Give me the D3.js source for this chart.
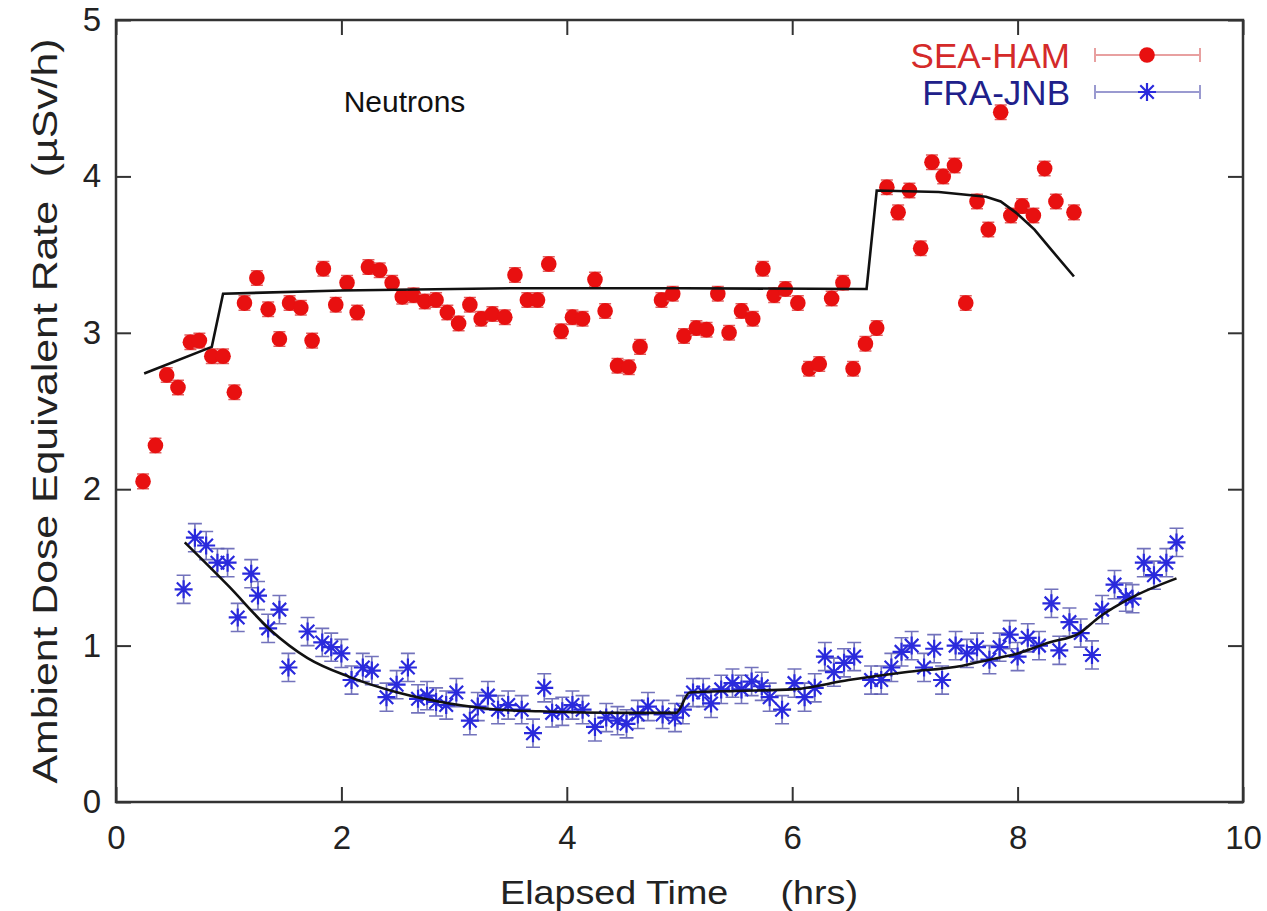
<!DOCTYPE html>
<html><head><meta charset="utf-8">
<script src="https://cdn.jsdelivr.net/npm/d3@7"></script>
<style>body{margin:0;background:#fff}svg{display:block}text{font-family:"Liberation Sans",Arial,sans-serif}</style>
</head><body><svg id="c" width="1267" height="911"></svg>
<script>
const xTicks=[0,2,4,6,8,10];
const yTicks=[0,1,2,3,4,5];
const seriesNames=["SEA-HAM","FRA-JNB"];
const seaHamTime=[0.24,0.35,0.45,0.55,0.66,0.74,0.85,0.95,1.05,1.14,1.25,1.35,1.45,1.54,1.64,1.74,1.84,1.95,2.05,2.14,2.24,2.34,2.45,2.54,2.64,2.74,2.84,2.94,3.04,3.14,3.24,3.34,3.45,3.54,3.65,3.74,3.84,3.95,4.05,4.14,4.25,4.34,4.45,4.55,4.65,4.84,4.94,5.04,5.15,5.24,5.34,5.44,5.55,5.65,5.74,5.84,5.94,6.05,6.15,6.24,6.35,6.45,6.54,6.65,6.75,6.84,6.94,7.04,7.14,7.24,7.34,7.44,7.54,7.64,7.74,7.85,7.94,8.04,8.14,8.24,8.34,8.50];
const seaHamRate=[2.05,2.28,2.73,2.65,2.94,2.95,2.85,2.85,2.62,3.19,3.35,3.15,2.96,3.19,3.16,2.95,3.41,3.18,3.32,3.13,3.42,3.40,3.32,3.23,3.24,3.20,3.21,3.13,3.06,3.18,3.09,3.12,3.10,3.37,3.21,3.21,3.44,3.01,3.10,3.09,3.34,3.14,2.79,2.78,2.91,3.21,3.25,2.98,3.03,3.02,3.25,3.00,3.14,3.09,3.41,3.24,3.28,3.19,2.77,2.80,3.22,3.32,2.77,2.93,3.03,3.93,3.77,3.91,3.54,4.09,4.00,4.07,3.19,3.84,3.66,4.41,3.75,3.81,3.75,4.05,3.84,3.77];
const seaHamErr=0.04;
const seaHamFitTime=[0.25,0.85,0.95,2.0,3.5,5.0,6.66,6.75,7.3,7.72,7.85,8.0,8.15,8.3,8.5];
const seaHamFitRate=[2.74,2.91,3.25,3.27,3.285,3.285,3.28,3.91,3.90,3.87,3.84,3.76,3.66,3.53,3.36];
const fraJnbTime=[0.60,0.70,0.80,0.90,0.99,1.08,1.20,1.26,1.35,1.45,1.53,1.70,1.83,1.91,2.00,2.09,2.19,2.27,2.40,2.49,2.59,2.68,2.76,2.84,2.93,3.02,3.14,3.21,3.30,3.39,3.48,3.60,3.70,3.80,3.87,3.96,4.05,4.14,4.25,4.35,4.45,4.53,4.63,4.72,4.85,4.96,5.03,5.12,5.21,5.28,5.37,5.47,5.55,5.64,5.73,5.80,5.91,6.02,6.11,6.20,6.29,6.37,6.46,6.55,6.70,6.79,6.88,6.97,7.06,7.17,7.26,7.33,7.45,7.55,7.64,7.75,7.84,7.93,8.00,8.09,8.19,8.30,8.37,8.46,8.56,8.66,8.75,8.86,8.96,9.02,9.12,9.21,9.32,9.41];
const fraJnbRate=[1.36,1.69,1.64,1.53,1.53,1.18,1.46,1.32,1.11,1.23,0.86,1.09,1.02,0.99,0.95,0.78,0.86,0.84,0.67,0.75,0.86,0.66,0.68,0.64,0.62,0.70,0.52,0.61,0.68,0.59,0.62,0.59,0.44,0.73,0.57,0.58,0.62,0.59,0.48,0.54,0.52,0.50,0.56,0.61,0.56,0.54,0.59,0.70,0.70,0.63,0.72,0.76,0.72,0.77,0.74,0.67,0.59,0.76,0.67,0.73,0.93,0.83,0.89,0.93,0.78,0.78,0.86,0.96,1.00,0.86,0.98,0.78,1.00,0.95,0.99,0.91,0.99,1.07,0.93,1.05,1.00,1.27,0.97,1.15,1.08,0.94,1.23,1.39,1.31,1.30,1.53,1.45,1.53,1.66];
const fraJnbErr=0.09;
const fraJnbFitTime=[0.61,1.0,1.37,1.7,2.07,2.5,2.96,3.4,3.76,4.5,4.97,5.09,5.5,6.0,6.5,7.0,7.5,7.75,8.0,8.28,8.55,8.72,9.02,9.41];
const fraJnbFitRate=[1.66,1.38,1.10,0.92,0.80,0.70,0.63,0.59,0.58,0.57,0.57,0.70,0.71,0.72,0.78,0.83,0.87,0.91,0.95,1.02,1.08,1.18,1.31,1.43];

const svg=d3.select("#c");
const L=116,R=1243,T=20,B=802;
const x=d3.scaleLinear().domain([0,10]).range([L,R]);
const y=d3.scaleLinear().domain([0,5]).range([B,T]);
const tickLen=15, frameCol="#333";

const ax=(g,axis)=>{g.call(axis);g.select(".domain").remove();g.selectAll("line").attr("stroke",frameCol).attr("stroke-width",2);};
svg.append("g").attr("transform",`translate(0,${B})`).call(g=>ax(g,d3.axisBottom(x).tickValues(xTicks).tickSize(-tickLen).tickFormat(d3.format("d")).tickPadding(24)))
  .selectAll("text").attr("font-size",33).attr("fill","#222");
svg.append("g").attr("transform",`translate(0,${T})`).call(g=>ax(g,d3.axisTop(x).tickValues(xTicks).tickSize(-tickLen).tickFormat("")));
svg.append("g").attr("transform",`translate(${L},0)`).call(g=>ax(g,d3.axisLeft(y).tickValues(yTicks).tickSize(-tickLen).tickFormat(d3.format("d")).tickPadding(15)))
  .selectAll("text").attr("font-size",33).attr("fill","#222");
svg.append("g").attr("transform",`translate(${R},0)`).call(g=>ax(g,d3.axisRight(y).tickValues(yTicks).tickSize(-tickLen).tickFormat("")));
svg.selectAll("g").attr("font-family",null);
svg.append("rect").attr("x",L).attr("y",T).attr("width",R-L).attr("height",B-T).attr("fill","none").attr("stroke",frameCol).attr("stroke-width",2.5);

// titles
svg.append("text").attr("x",679).attr("y",904).attr("text-anchor","middle").attr("font-size",34).attr("fill","#222")
  .attr("textLength",358).attr("lengthAdjust","spacingAndGlyphs").style("white-space","pre").text("Elapsed Time     (hrs)");
svg.append("text").attr("transform","translate(57,411) rotate(-90)").attr("text-anchor","middle").attr("font-size",35).attr("fill","#222")
  .attr("textLength",745).attr("lengthAdjust","spacingAndGlyphs").style("white-space","pre").text("Ambient Dose Equivalent Rate  (\u00b5Sv/h)");
svg.append("text").attr("x",x(2.02)).attr("y",112).attr("font-size",30).attr("fill","#111").text("Neutrons");

const line=d3.line().x(d=>x(d[0])).y(d=>y(d[1]));
const redCol="#e81010", blueCol="#2a2adc", blueBar="#5a5ab0";

// FRA-JNB
const fj=fraJnbTime.map((t,i)=>[t,fraJnbRate[i]]);
const gB=svg.append("g");
fj.forEach(d=>{
  const cx=x(d[0]),y1=y(d[1]+fraJnbErr),y0=y(d[1]-fraJnbErr);
  gB.append("path").attr("d",`M${cx},${y0}V${y1}M${cx-7},${y0}H${cx+7}M${cx-7},${y1}H${cx+7}`).attr("stroke",blueBar).attr("stroke-width",1.6).attr("fill","none").attr("opacity",0.85);
});
const star=(g,cx,cy,s)=>g.append("path").attr("d",`M${cx-s},${cy}H${cx+s}M${cx},${cy-s}V${cy+s}M${cx-s*0.75},${cy-s*0.75}L${cx+s*0.75},${cy+s*0.75}M${cx-s*0.75},${cy+s*0.75}L${cx+s*0.75},${cy-s*0.75}`).attr("stroke",blueCol).attr("stroke-width",2.2).attr("fill","none");
fj.forEach(d=>star(gB,x(d[0]),y(d[1]),9));
svg.append("path").datum(fraJnbFitTime.map((t,i)=>[t,fraJnbFitRate[i]])).attr("d",d3.line().curve(d3.curveMonotoneX).x(d=>x(d[0])).y(d=>y(d[1]))).attr("fill","none").attr("stroke","#111").attr("stroke-width",2.6);

// SEA-HAM
const sh=seaHamTime.map((t,i)=>[t,seaHamRate[i]]);
const gR=svg.append("g");
sh.forEach(d=>{
  const cx=x(d[0]),y1=y(d[1]+seaHamErr),y0=y(d[1]-seaHamErr);
  gR.append("path").attr("d",`M${cx},${y0-3}V${y1+3}M${cx-6},${y0+1}H${cx+6}M${cx-6},${y1-1}H${cx+6}`).attr("stroke","#e06060").attr("stroke-width",1.5).attr("fill","none");
  gR.append("circle").attr("cx",cx).attr("cy",y(d[1])).attr("r",7.8).attr("fill",redCol);
});
svg.append("path").datum(seaHamFitTime.map((t,i)=>[t,seaHamFitRate[i]])).attr("d",line).attr("fill","none").attr("stroke","#111").attr("stroke-width",2.6);

// legend
const lg=svg.append("g");
const legY=[55,92], legCol=["#d42a2a","#20208a"], legBar=["#e8a0a0","#9a9ad0"];
seriesNames.forEach((n,i)=>{
  lg.append("text").attr("x",1070).attr("y",legY[i]).attr("dy","0.36em").attr("text-anchor","end").attr("font-size",35).attr("fill",legCol[i]).text(n);
  lg.append("path").attr("d",`M1095,${legY[i]}H1200M1095,${legY[i]-7}V${legY[i]+7}M1200,${legY[i]-7}V${legY[i]+7}`).attr("stroke",legBar[i]).attr("stroke-width",2).attr("fill","none");
});
lg.append("circle").attr("cx",1147).attr("cy",legY[0]).attr("r",7.8).attr("fill",redCol);
star(lg,1147,legY[1],9);
</script></body></html>
